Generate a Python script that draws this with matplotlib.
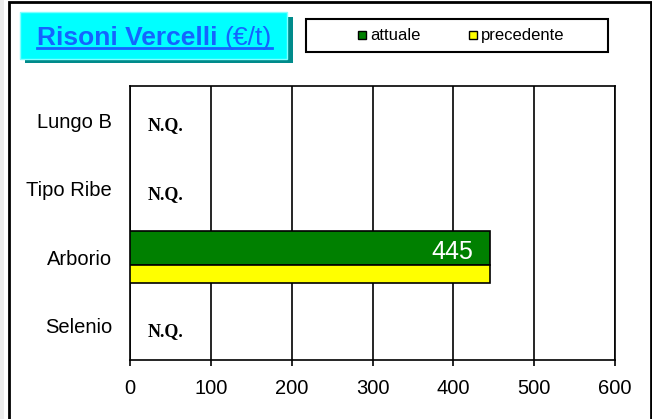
import numpy as np
import matplotlib
matplotlib.use("Agg")
import matplotlib.pyplot as plt
from matplotlib.patches import Rectangle
from matplotlib.lines import Line2D

# Rice prices, Vercelli market (EUR/t); None = not quoted
categories = ["Lungo B", "Tipo Ribe", "Arborio", "Selenio"]
attuale = [None, None, 445, None]
precedente = [None, None, 445, None]
x_ticks = [0, 100, 200, 300, 400, 500, 600]

GREEN = "#008000"
YELLOW = "#FFFF00"
TITLE_BLUE = "#1464FF"

W, H = 652, 419
fig = plt.figure(figsize=(W / 100, H / 100), dpi=100)
fig.patch.set_facecolor("white")


def fx(px):
    return px / W


def fy(py):
    return 1 - py / H


# outer frame of the chart
fig.patches.append(Rectangle((0, 0), fx(4), 1, transform=fig.transFigure,
                             facecolor="#ECECEC", edgecolor="none", zorder=0))
fig.patches.append(Rectangle((fx(8.5), fy(425)), fx(642), fy(2.5) - fy(425),
                             transform=fig.transFigure, facecolor="none",
                             edgecolor="black", linewidth=2, zorder=1,
                             clip_on=False))

ax = fig.add_axes([fx(130), fy(360), fx(615) - fx(130), fy(86) - fy(360)])
n = len(categories)
ypos = np.arange(n)[::-1]  # first category at top

ax.set_xlim(0, 600)
ax.set_ylim(-0.5, n - 0.5)
ax.set_xticks(x_ticks)
ax.set_xticklabels([str(t) for t in x_ticks], fontsize=14.5,
                   fontfamily="Liberation Sans")
ax.set_yticks(ypos)
ax.set_yticklabels(categories, fontsize=14.5, fontfamily="Liberation Sans")
ax.tick_params(axis="y", length=0, pad=13)
ax.tick_params(axis="x", length=4, width=1.2, direction="out", pad=10)
ax.grid(axis="x", color="black", linewidth=1.2)
ax.set_axisbelow(True)
for s in ax.spines.values():
    s.set_linewidth(1.2)

for y, a, p in zip(ypos, attuale, precedente):
    if a is None:
        ax.text(22, y - 0.08, "N.Q.", fontsize=13, fontweight="bold",
                fontfamily="Liberation Serif", ha="left", va="center")
        continue
    ax.barh(y + 0.135, a, height=0.496, color=GREEN, edgecolor="black",
            linewidth=1.2, zorder=3)
    ax.barh(y - 0.245, p, height=0.263, color=YELLOW, edgecolor="black",
            linewidth=1.2, zorder=3)
    ax.text(a - 20, y + 0.08, f"{a}", color="white", fontsize=18,
            fontfamily="Liberation Sans", ha="right", va="center", zorder=4)

# title box with drop shadow
fig.patches.append(Rectangle((fx(25), fy(63)), fx(293) - fx(25), fy(17) - fy(63),
                             transform=fig.transFigure, facecolor="#008B8B",
                             edgecolor="none", zorder=2))
fig.patches.append(Rectangle((fx(20), fy(59)), fx(287) - fx(20), fy(12) - fy(59),
                             transform=fig.transFigure, facecolor="#00FFFF",
                             edgecolor="#7FFFFF", linewidth=1, zorder=3))

t1 = fig.text(fx(37), fy(45), "Risoni Vercelli", fontsize=19, fontweight="bold",
              color=TITLE_BLUE, fontfamily="Liberation Sans", ha="left",
              va="baseline", zorder=4)
renderer = fig.canvas.get_renderer()
bb1 = t1.get_window_extent(renderer)
t2 = fig.text(bb1.x1 / W + fx(7), fy(45), "(\u20ac/t)", fontsize=19,
              color=TITLE_BLUE, fontfamily="Liberation Sans", ha="left",
              va="baseline", zorder=4)
bb2 = t2.get_window_extent(renderer)
ul_y = fy(48)
fig.lines.append(Line2D([bb1.x0 / W, bb2.x1 / W], [ul_y, ul_y],
                        transform=fig.transFigure, color=TITLE_BLUE,
                        linewidth=2, zorder=4))

# legend box
fig.patches.append(Rectangle((fx(306), fy(52)), fx(608) - fx(306), fy(19) - fy(52),
                             transform=fig.transFigure, facecolor="white",
                             edgecolor="black", linewidth=1.5, zorder=3))
for mx, col, label in [(358, GREEN, "attuale"), (469, YELLOW, "precedente")]:
    fig.patches.append(Rectangle((fx(mx), fy(39.5)), fx(8), fy(31.5) - fy(39.5),
                                 transform=fig.transFigure, facecolor=col,
                                 edgecolor="black", linewidth=1, zorder=4))
    fig.text(fx(mx + 12), fy(35.5), label, fontsize=12,
             fontfamily="Liberation Sans", ha="left", va="center", zorder=4)

fig.savefig("out.png", dpi=100)
